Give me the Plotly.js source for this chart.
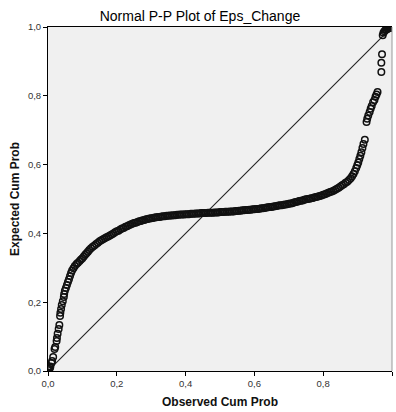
<!DOCTYPE html>
<html>
<head>
<meta charset="utf-8">
<script src="https://cdn.plot.ly/plotly-3.0.1.min.js"></script>
<style>html,body{margin:0;padding:0;background:#fff;}#chart{width:396px;height:412px;}</style>
</head>
<body>
<div id="chart"></div>
<script>
// Observed cumulative probability (x) and expected cumulative probability (y)
const lowObs = [0.002,0.004,0.006,0.007,0.010,0.012,0.015,0.019,0.021,0.025,0.026,0.028,0.031,0.033,0.035,0.036,0.038,0.040,0.043,0.046,0.047,0.049,0.052,0.055,0.058,0.061,0.064,0.067,0.070,0.074,0.078,0.083,0.087,0.092,0.096,0.100,0.104,0.108,0.112,0.116];
const lowExp = [0.002,0.006,0.010,0.013,0.023,0.029,0.041,0.064,0.070,0.087,0.096,0.108,0.122,0.134,0.160,0.169,0.180,0.192,0.203,0.215,0.224,0.233,0.241,0.250,0.259,0.267,0.276,0.285,0.292,0.299,0.305,0.311,0.315,0.320,0.324,0.328,0.333,0.338,0.342,0.347];

const midObs = [0.120,0.125,0.130,0.135,0.140,0.145,0.150,0.155,0.160,0.165,0.170,0.175,0.180,0.185,0.190,0.195,0.200,0.205,0.210,0.215,0.220,0.225,0.230,0.235,0.240,0.245,0.250,0.255,0.260,0.265,0.270,0.275,0.280,0.285,0.290,0.295,0.300,0.305,0.310,0.315,0.320,0.325,0.330,0.335,0.340,0.345,0.350,0.355,0.360,0.365,0.370,0.375,0.380,0.385,0.390,0.395,0.400,0.405,0.410,0.415,0.420,0.425,0.430,0.435,0.440,0.445,0.450,0.455,0.460,0.465,0.470,0.475,0.480,0.485,0.490,0.495,0.500,0.505,0.510,0.515,0.520,0.525,0.530,0.535,0.540,0.545,0.550,0.555,0.560,0.565,0.570,0.575,0.580,0.585,0.590,0.595,0.600,0.605,0.610,0.615,0.620,0.625,0.630,0.635,0.640,0.645,0.650,0.655,0.660,0.665,0.670,0.675,0.680,0.685,0.690,0.695,0.700,0.705,0.710,0.715,0.720,0.725,0.730,0.735,0.740,0.745,0.750,0.755,0.760,0.765,0.770,0.775,0.780,0.785,0.790,0.795,0.800,0.805,0.810,0.815,0.820,0.825,0.830,0.835,0.840,0.845,0.850,0.855,0.860,0.865,0.870];
const midExp = [0.352,0.357,0.361,0.365,0.369,0.373,0.377,0.380,0.383,0.386,0.389,0.391,0.394,0.397,0.400,0.403,0.406,0.408,0.411,0.414,0.416,0.419,0.421,0.424,0.426,0.428,0.430,0.431,0.433,0.435,0.436,0.438,0.439,0.441,0.442,0.443,0.444,0.445,0.446,0.447,0.448,0.448,0.449,0.450,0.450,0.451,0.451,0.452,0.452,0.453,0.453,0.454,0.454,0.455,0.455,0.455,0.456,0.456,0.456,0.457,0.457,0.457,0.458,0.458,0.458,0.459,0.459,0.459,0.459,0.460,0.460,0.460,0.460,0.461,0.461,0.461,0.462,0.462,0.462,0.463,0.463,0.463,0.464,0.464,0.464,0.465,0.465,0.466,0.466,0.467,0.467,0.468,0.468,0.469,0.469,0.470,0.470,0.471,0.471,0.472,0.473,0.473,0.474,0.475,0.476,0.477,0.477,0.478,0.479,0.480,0.481,0.482,0.482,0.483,0.484,0.485,0.486,0.487,0.488,0.490,0.491,0.492,0.494,0.495,0.496,0.498,0.499,0.500,0.501,0.502,0.503,0.505,0.506,0.507,0.509,0.510,0.512,0.514,0.516,0.518,0.520,0.522,0.524,0.527,0.530,0.533,0.536,0.540,0.543,0.547,0.550];

const highObs = [0.875,0.880,0.884,0.888,0.892,0.896,0.899,0.902,0.905,0.908,0.911,0.914,0.917,0.921,0.926,0.928,0.931,0.935,0.938,0.941,0.945,0.949,0.952,0.955,0.958,0.969,0.969,0.971,0.973,0.975,0.978,0.981,0.984,0.987,0.990,0.993,0.996,0.999];
const highExp = [0.555,0.560,0.566,0.573,0.581,0.590,0.598,0.606,0.616,0.626,0.636,0.648,0.660,0.672,0.724,0.733,0.743,0.753,0.762,0.770,0.781,0.788,0.797,0.804,0.811,0.869,0.896,0.921,0.976,0.983,0.988,0.991,0.993,0.995,0.996,0.997,0.998,0.999];

// Reference (diagonal) line endpoints
const refObs = [0, 1];
const refExp = [0, 1];
const tickVals = [0, 0.2, 0.4, 0.6, 0.8, 1.0];

const obs = lowObs.concat(midObs, highObs);
const exp = lowExp.concat(midExp, highExp);

const FONT = 'Arial, Liberation Sans, sans-serif';

const traces = [
  {x: refObs, y: refExp, type: 'scatter', mode: 'lines', line: {color: '#222222', width: 1.1}, hoverinfo: 'skip'},
  {x: obs, y: exp, type: 'scatter', mode: 'markers',
   marker: {symbol: 'circle-open', size: 6.5, color: '#111111', line: {width: 1.5, color: '#111111'}}}
];

const axisCommon = {
  range: [0, 1], tickvals: tickVals, tickformat: '.1f',
  showgrid: false, zeroline: false, showline: true, linecolor: '#000', linewidth: 1,
  ticks: 'outside', ticklen: 4, tickcolor: '#000', tickwidth: 1,
  tickfont: {family: FONT, size: 9.5, color: '#333'},
  fixedrange: true
};

const layout = {
  width: 396, height: 412,
  separators: ',.',
  paper_bgcolor: '#ffffff', plot_bgcolor: '#f0f0f0',
  margin: {l: 48, r: 4, t: 27, b: 41},
  showlegend: false,
  title: {text: 'Normal P-P Plot of Eps_Change', xref: 'container', x: 0.505, xanchor: 'center', yref: 'container', y: 0.961, yanchor: 'middle',
          font: {family: FONT, size: 14, color: '#000'}},
  xaxis: Object.assign({}, axisCommon, {mirror: true,
    title: {text: 'Observed Cum Prob', standoff: 9, font: {family: FONT, size: 12, color: '#111', weight: 'bold'}}}),
  yaxis: Object.assign({}, axisCommon, {mirror: false,
    title: {text: 'Expected Cum Prob', standoff: 5, font: {family: FONT, size: 12, color: '#111', weight: 'bold'}}}),
  shapes: [
    {type: 'line', xref: 'paper', yref: 'paper', x0: 1, x1: 1, y0: 0, y1: 1, line: {color: '#999', width: 1}}
  ]
};

Plotly.newPlot('chart', traces, layout, {displayModeBar: false, staticPlot: true});
</script>
</body>
</html>
